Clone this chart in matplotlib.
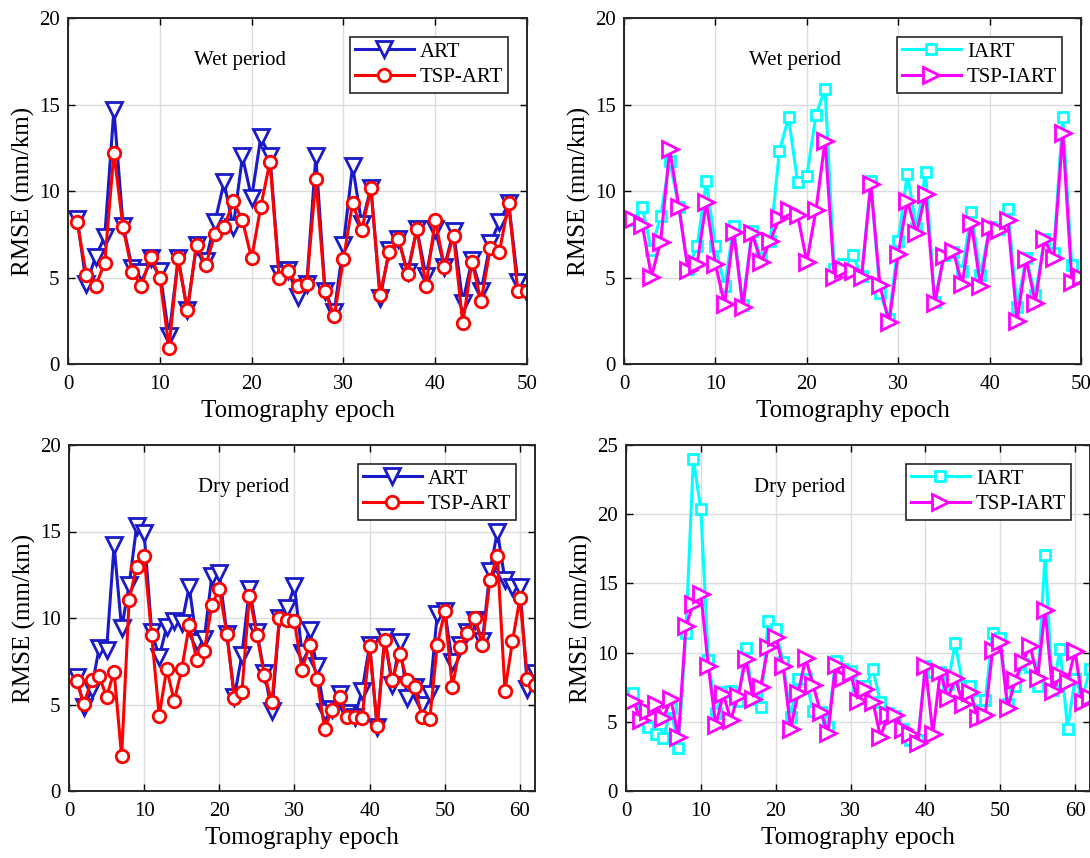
import matplotlib
matplotlib.use('Agg')
import matplotlib.pyplot as plt

plt.rcParams['font.family'] = ['Liberation Serif', 'DejaVu Serif']
plt.rcParams['mathtext.fontset'] = 'stix'

# ---------------- data ----------------
wet_epochs = list(range(1, 51))
dry_epochs = list(range(1, 63))

wet_art = [8.4, 4.6, 6.2, 7.35, 14.7, 8.0, 5.55, 5.3, 6.1, 5.4,
           1.6, 6.1, 3.1, 6.9, 5.95, 8.2, 10.5, 7.9, 12.0, 9.6,
           13.1, 12.0, 5.2, 5.45, 3.9, 4.6, 12.0, 4.2, 3.0, 6.9,
           11.45, 8.1, 10.2, 3.8, 6.6, 7.2, 5.3, 7.8, 5.1, 7.8,
           5.6, 7.7, 3.55, 6.0, 4.2, 7.0, 8.2, 9.3, 4.75, 4.1]
wet_tsp_art = [8.2, 5.15, 4.5, 5.85, 12.2, 7.9, 5.3, 4.5, 6.2, 5.0,
               0.95, 6.1, 3.1, 6.9, 5.7, 7.5, 7.9, 9.4, 8.3, 6.1,
               9.1, 11.7, 5.0, 5.4, 4.5, 4.6, 10.7, 4.2, 2.75, 6.05,
               9.3, 7.75, 10.15, 4.0, 6.5, 7.25, 5.2, 7.8, 4.5, 8.35,
               5.6, 7.4, 2.35, 5.9, 3.65, 6.7, 6.5, 9.3, 4.2, 4.2]
wet_iart = [8.3, 9.05, 6.6, 8.55, 11.75, 9.1, 5.5, 6.8, 10.55, 6.8,
            4.5, 7.95, 3.4, 7.7, 6.1, 7.1, 12.3, 14.25, 10.5, 10.85,
            14.4, 15.9, 5.5, 5.8, 6.3, 5.1, 10.55, 4.1, 2.6, 7.1,
            11.0, 7.85, 11.1, 3.6, 6.3, 6.5, 5.35, 8.8, 5.15, 7.9,
            7.8, 8.95, 3.3, 6.1, 4.0, 7.2, 6.4, 14.25, 5.7, 5.0]
wet_tsp_iart = [8.4, 8.05, 5.05, 7.05, 12.4, 9.1, 5.45, 5.8, 9.35, 5.8,
                3.45, 7.65, 3.3, 7.55, 5.9, 7.1, 8.45, 8.9, 8.6, 5.9,
                8.9, 12.9, 5.05, 5.5, 5.35, 5.05, 10.4, 4.55, 2.4, 6.35,
                9.45, 7.55, 9.85, 3.5, 6.25, 6.55, 4.6, 8.15, 4.5, 7.9,
                7.75, 8.3, 2.5, 6.05, 3.55, 7.2, 6.1, 13.35, 4.75, 5.05]

dry_art = [6.6, 4.85, 5.9, 8.25, 8.15, 14.2, 9.4, 11.9, 15.3, 14.9,
           9.2, 7.75, 9.5, 9.85, 9.7, 11.8, 8.6, 8.8, 12.4, 12.6,
           9.1, 5.45, 7.85, 11.7, 9.2, 6.8, 4.6, 10.0, 10.55, 11.85,
           7.95, 9.3, 7.2, 4.55, 4.75, 5.6, 4.5, 4.3, 5.8, 8.45,
           3.7, 8.9, 6.1, 8.6, 5.4, 6.0, 5.0, 5.6, 10.25, 10.4,
           7.45, 8.45, 9.2, 9.9, 8.65, 12.7, 15.0, 12.2, 11.8, 11.8,
           5.9, 6.8]
dry_tsp_art = [6.35, 5.05, 6.4, 6.65, 5.45, 6.9, 2.0, 11.05, 12.97, 13.6,
               9.0, 4.35, 7.05, 5.2, 7.05, 9.6, 7.55, 8.1, 10.75, 11.7,
               9.1, 5.4, 5.7, 11.3, 9.0, 6.7, 5.15, 10.0, 9.9, 9.8,
               7.0, 8.45, 6.45, 3.6, 4.7, 5.45, 4.25, 4.25, 4.2, 8.4,
               3.75, 8.75, 6.4, 7.9, 6.4, 6.0, 4.25, 4.15, 8.45, 10.4,
               6.0, 8.3, 9.15, 10.0, 8.45, 12.2, 13.6, 5.8, 8.65, 11.15,
               6.5, 6.1]
dry_iart = [7.1, 5.6, 4.6, 4.15, 3.8, 6.0, 3.1, 11.45, 24.0, 20.35,
            9.5, 5.6, 7.15, 7.25, 6.5, 10.35, 6.65, 6.05, 12.25, 11.7,
            9.3, 5.35, 8.1, 8.1, 5.8, 5.7, 4.6, 9.4, 8.8, 8.7,
            7.6, 7.6, 8.8, 6.4, 5.6, 5.45, 4.5, 3.65, 3.65, 9.05,
            8.6, 8.6, 7.75, 10.7, 7.6, 7.6, 6.6, 6.6, 11.4, 11.05,
            6.3, 7.6, 9.15, 8.95, 7.6, 17.05, 7.3, 10.25, 4.5, 8.1,
            6.8, 8.8]
dry_tsp_iart = [6.5, 5.1, 5.8, 6.3, 5.3, 6.65, 3.9, 11.9, 13.5, 14.25,
                9.0, 4.75, 7.0, 5.15, 6.9, 9.55, 6.65, 7.55, 10.4, 11.15,
                9.0, 4.5, 7.05, 9.6, 7.65, 5.7, 4.2, 9.1, 8.15, 8.5,
                6.5, 7.35, 6.45, 3.9, 5.5, 5.5, 4.5, 4.15, 3.5, 9.05,
                4.15, 8.6, 6.7, 8.15, 6.3, 7.15, 5.25, 5.5, 10.2, 10.8,
                6.0, 8.0, 9.35, 10.45, 8.2, 13.1, 7.2, 8.35, 7.85, 10.15,
                6.4, 6.8]

# ---------------- figure ----------------
W, H = 1090, 858
fig = plt.figure(figsize=(W / 100, H / 100), dpi=100)


def add_ax(x0, x1, ytop, ybot):
    return fig.add_axes([x0 / W, 1 - ybot / H, (x1 - x0) / W, (ybot - ytop) / H])


ax_tl = add_ax(68, 527, 18, 364)
ax_tr = add_ax(624, 1081, 18, 364)
ax_bl = add_ax(69, 535, 445, 791)
ax_br = add_ax(626, 1090, 445, 791)

BLUE = '#1a1ac8'
RED = '#ff0000'
CYAN = '#00ffff'
MAG = '#ff00ff'


def style(ax, xmax, ymax, yticks, text):
    ax.set_xlim(0, xmax)
    ax.set_ylim(0, ymax)
    ax.set_xticks(range(0, xmax + 1, 10))
    ax.set_yticks(yticks)
    ax.grid(True, color='#dcdcdc', linewidth=1.0)
    ax.set_axisbelow(True)
    ax.tick_params(direction='in', top=True, right=True, length=5,
                   width=1.0, labelsize=15)
    ax.tick_params(axis='x', pad=8)
    ax.tick_params(axis='y', pad=6)
    for s in ax.spines.values():
        s.set_linewidth(1.4)
        s.set_color('#262626')
    ax.set_xlabel('Tomography epoch', fontsize=18, labelpad=4)
    ax.set_ylabel('RMSE (mm/km)', fontsize=18, labelpad=3)
    ax.text(0.375, 0.877, text, transform=ax.transAxes, fontsize=15,
            ha='center', va='center')


def leg(ax):
    ax.legend(loc='upper right', fontsize=15, frameon=True, fancybox=False,
              edgecolor='#262626', framealpha=1, handlelength=2.8,
              borderaxespad=0.9, borderpad=0.25, labelspacing=0.3,
              handletextpad=0.3).get_frame().set_linewidth(1.2)


kw = dict(linewidth=2.2, markeredgewidth=2.0, markerfacecolor='white')

ax_tl.plot(wet_epochs, wet_art, color=BLUE, marker='v', markersize=11, label='ART', **kw)
ax_tl.plot(wet_epochs, wet_tsp_art, color=RED, marker='o', markersize=9, label='TSP-ART', **kw)
style(ax_tl, 50, 20, [0, 5, 10, 15, 20], 'Wet period')
leg(ax_tl)

ax_tr.plot(wet_epochs, wet_iart, color=CYAN, marker='s', markersize=7, label='IART', **kw)
ax_tr.plot(wet_epochs, wet_tsp_iart, color=MAG, marker='>', markersize=11, label='TSP-IART', **kw)
style(ax_tr, 50, 20, [0, 5, 10, 15, 20], 'Wet period')
leg(ax_tr)

ax_bl.plot(dry_epochs, dry_art, color=BLUE, marker='v', markersize=11, label='ART', **kw)
ax_bl.plot(dry_epochs, dry_tsp_art, color=RED, marker='o', markersize=9, label='TSP-ART', **kw)
style(ax_bl, 62, 20, [0, 5, 10, 15, 20], 'Dry period')
ax_bl.set_xticks(range(0, 61, 10))
leg(ax_bl)

ax_br.plot(dry_epochs, dry_iart, color=CYAN, marker='s', markersize=7, label='IART', **kw)
ax_br.plot(dry_epochs, dry_tsp_iart, color=MAG, marker='>', markersize=11, label='TSP-IART', **kw)
style(ax_br, 62, 25, [0, 5, 10, 15, 20, 25], 'Dry period')
ax_br.set_xticks(range(0, 61, 10))
leg(ax_br)

fig.savefig('out.png', dpi=100)
